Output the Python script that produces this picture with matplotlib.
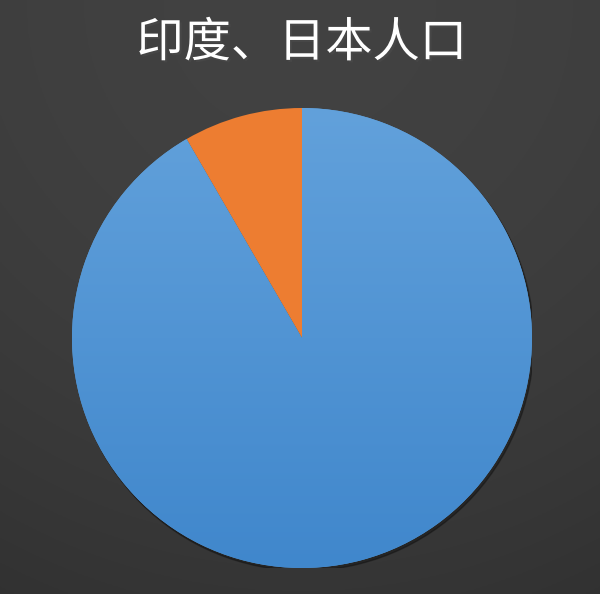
import matplotlib.pyplot as plt
import matplotlib.patheffects as pe
import numpy as np

plt.rcParams['font.family'] = ['Noto Sans CJK SC', 'DejaVu Sans']

# population (millions)
countries = ['印度', '日本']
population = [1380, 126]
colors = ['#5b9bd5', '#ed7d31']
title = '印度、日本人口'

fig = plt.figure(figsize=(6, 5.94), dpi=100)

# dark background with soft gradient
bg = fig.add_axes([0, 0, 1, 1])
yy, xx = np.mgrid[0:1:300j, 0:1:300j]
shade = 0.22 + 0.05 * yy - 0.05 * ((xx - 0.5) ** 2 + (yy - 0.5) ** 2)
bg.imshow(np.dstack([shade] * 3), extent=[0, 1, 0, 1], aspect='auto', origin='lower')
bg.axis('off')

ax = fig.add_axes([72 / 600, 26 / 594, 460 / 600, 460 / 594])
ax.set_facecolor('none')

# drop shadow
shadow = plt.Circle((0.008, -0.012), 1.0, color='black', alpha=0.3, zorder=0)
ax.add_patch(shadow)

wedges, _ = ax.pie(population, colors=colors, startangle=90, counterclock=False,
                   wedgeprops=dict(linewidth=0))

# vertical gradient on the blue slice
grad = np.linspace(0, 1, 256).reshape(-1, 1)
top = np.array([0x62, 0xa1, 0xdb]) / 255
bot = np.array([0x40, 0x87, 0xcc]) / 255
img = top + (bot - top) * grad[..., None]
im = ax.imshow(img, extent=[-1, 1, -1, 1], origin='upper', aspect='auto', zorder=1.5)
im.set_clip_path(wedges[0])

ax.set_xlim(-1, 1)
ax.set_ylim(-1, 1)
ax.set_aspect('equal')
ax.axis('off')

fig.text(0.503, 0.927, title, color='white', fontsize=34, ha='center', va='center',
         path_effects=[pe.withSimplePatchShadow(offset=(1.5, -1.5), alpha=0.5)])

fig.savefig('out.png', dpi=100)
